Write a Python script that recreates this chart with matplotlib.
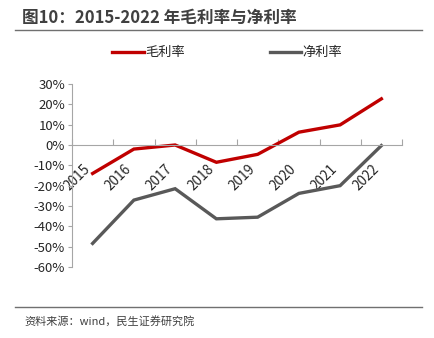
import matplotlib
matplotlib.use('Agg')
import matplotlib.pyplot as plt
from matplotlib.lines import Line2D

plt.rcParams['font.family'] = ['Noto Sans CJK SC', 'DejaVu Sans']

# data (%)
years = ['2015', '2016', '2017', '2018', '2019', '2020', '2021', '2022']
gross_margin = [-14.0, -2.0, 0.0, -8.5, -4.6, 6.3, 9.9, 22.7]
net_margin = [-48.4, -27.1, -21.5, -36.3, -35.5, -23.8, -20.0, -0.3]
yticks = [30, 20, 10, 0, -10, -20, -30, -40, -50, -60]

red = '#C00000'
grey = '#595959'
txt = '#262626'

fig = plt.figure(figsize=(4.34, 3.38), dpi=100)

# title and rules
fig.text(22/434, 1 - 18/338, '图10：2015-2022 年毛利率与净利率', fontsize=12,
         fontweight='bold', color='#404040', va='center', ha='left')
fig.add_artist(Line2D([15/434, 422/434], [1 - 30/338, 1 - 30/338],
                      color='#707070', lw=1.0))
fig.add_artist(Line2D([15/434, 422/434], [1 - 307/338, 1 - 307/338],
                      color='#707070', lw=1.0))
fig.text(24/434, 1 - 321/338, '资料来源：wind，民生证券研究院', fontsize=8,
         color='#404040', va='center', ha='left')

ax = fig.add_axes([72/434, 1 - 267/338, (402 - 72)/434, (267 - 84)/338])
x = range(len(years))
ax.plot(x, gross_margin, color=red, lw=2.4, label='毛利率',
        solid_joinstyle='miter')
ax.plot(x, net_margin, color=grey, lw=2.4, label='净利率',
        solid_joinstyle='miter')

ax.set_xlim(-0.5, len(years) - 0.5)
ax.set_ylim(-60, 30)
ax.set_yticks(yticks)
ax.set_yticklabels(['%d%%' % v for v in yticks])

for s in ['top', 'right']:
    ax.spines[s].set_visible(False)
ax.spines['bottom'].set_position(('data', 0))
ax.spines['bottom'].set_color('#a6a6a6')
ax.spines['left'].set_color('#a6a6a6')

ax.set_xticks([i + 0.5 for i in range(-1, len(years))], minor=False)
ax.set_xticklabels([])
ax.set_xticks(list(x), minor=True)
ax.set_xticklabels(years, minor=True, rotation=45, ha='right', va='top',
                   fontsize=9.8, color=txt)
ax.tick_params(axis='x', which='major', direction='in', length=4,
               color='#a6a6a6')
ax.tick_params(axis='x', which='minor', length=0, pad=12)
ax.tick_params(axis='y', direction='out', length=3, color='#a6a6a6',
               labelsize=9.5, labelcolor=txt, pad=2)

ax.legend(loc='lower center', bbox_to_anchor=(0.471, 1.07), ncol=2,
          frameon=False, fontsize=9.5, handlelength=2.4, handletextpad=0.1,
          columnspacing=6.4, labelcolor=txt)

fig.savefig('out.png', dpi=100)
